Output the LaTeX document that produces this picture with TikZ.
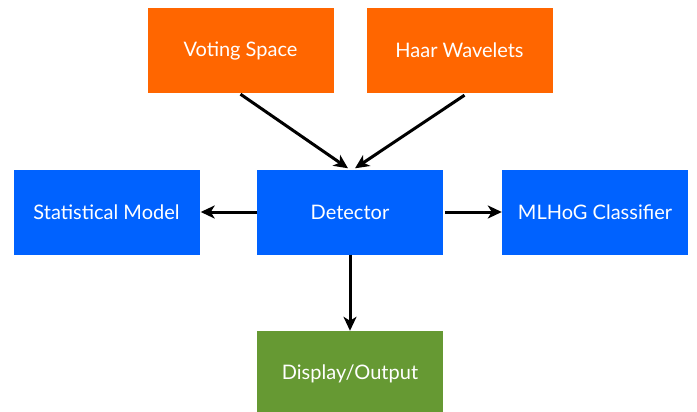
\documentclass[tikz,border=0pt]{standalone}
\usepackage{fontspec}
\setmainfont{Lato}
\usetikzlibrary{arrows.meta,calc}
\definecolor{boxorange}{RGB}{255,102,0}
\definecolor{boxblue}{RGB}{0,98,255}
\definecolor{boxgreen}{RGB}{102,153,51}
\begin{document}
\begin{tikzpicture}[x=1pt,y=-1pt,
  box/.style={rectangle, minimum width=186pt, minimum height=85pt, inner sep=0pt,
    text=white, font=\fontsize{20}{24}\selectfont},
  orangebox/.style={box, fill=boxorange},
  bluebox/.style={box, fill=boxblue},
  greenbox/.style={box, fill=boxgreen},
  arr/.style={line width=3pt, -{Stealth[length=14pt,width=13pt,inset=4pt]}}
]
\useasboundingbox (0,0) rectangle (697,412);
\clip (0,0) rectangle (697,412);
\node[orangebox] (vote) at (240.5,50.5) {Voting Space};
\node[orangebox] (haar) at (459.5,50.5) {Haar Wavelets};
\node[bluebox] (stat) at (106.5,212) {Statistical Model};
\node[bluebox] (det) at (350,212) {Detector};
\node[bluebox] (ml) at (595,212) {MLHoG Classifier};
\node[greenbox] (disp) at (350,373.5) {Display/Output};
\coordinate (vstart) at ($(vote.south)+(0,1)$);
\coordinate (hstart) at ($(haar.south)+(5,2)$);
\coordinate (vend) at ($(det.north)+(-2,-1)$);
\coordinate (hend) at ($(det.north)+(5,-1)$);
\draw[arr] (vstart) -- (vend);
\draw[arr] (hstart) -- (hend);
\draw[arr] (det.west) -- ($(stat.east)+(1,0)$);
\draw[arr] ($(det.east)+(2,0)$) -- (ml.west);
\draw[arr] (det.south) -- (disp.north);
\end{tikzpicture}
\end{document}
